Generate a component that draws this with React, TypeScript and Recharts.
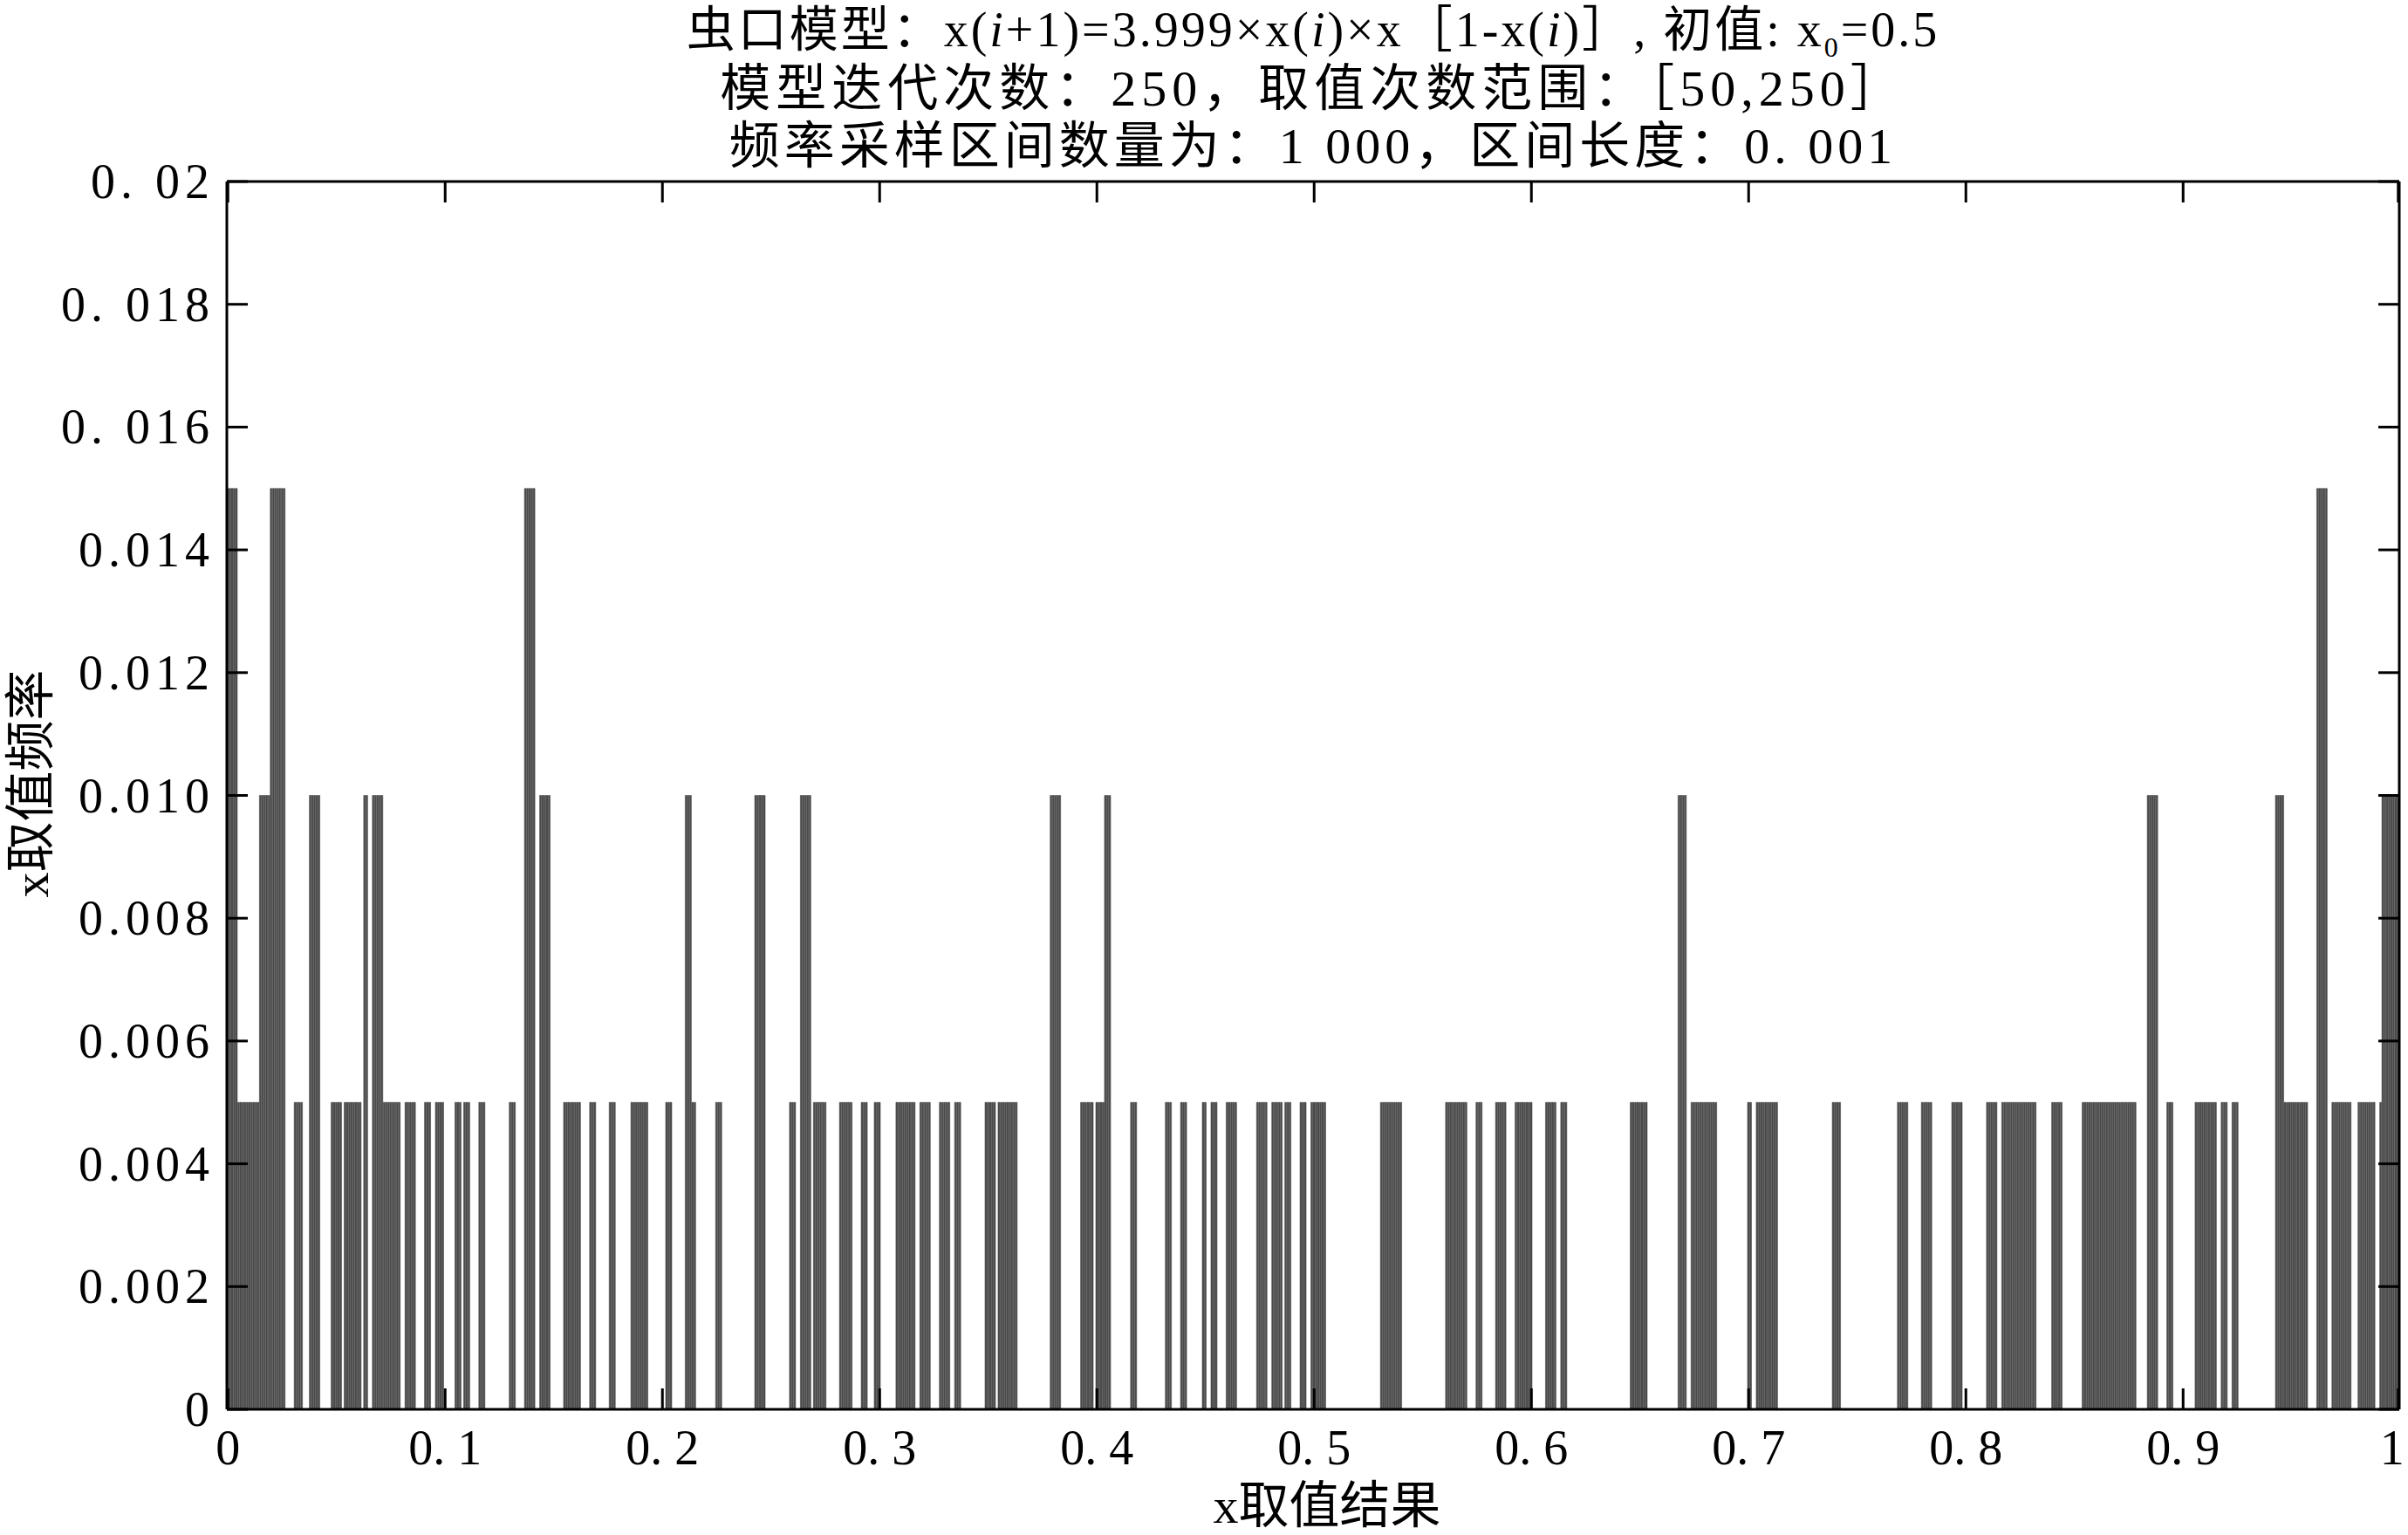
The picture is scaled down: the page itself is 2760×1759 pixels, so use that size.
import React from 'react';
import { BarChart, Bar, XAxis, YAxis } from 'recharts';

// histogram of logistic map values, 1000 bins of width 0.001
const BIN_COUNT = 1000;

// runs of consecutive bins [first, last] per frequency level
const runsAt005: [number, number][] = [
  [5, 14], [31, 34], [48, 52], [54, 61], [72, 79], [82, 86], [91, 93], [96, 99],
  [105, 107], [109, 111], [116, 118], [130, 132], [155, 162], [167, 169], [176, 178],
  [186, 193], [202, 204], [214, 215], [225, 227], [259, 261], [270, 275], [282, 287],
  [292, 294], [298, 300], [308, 316], [319, 323], [328, 332], [335, 337], [349, 353],
  [355, 363], [393, 398], [400, 403], [416, 418], [432, 434], [439, 441], [449, 450],
  [453, 455], [460, 464], [474, 478], [481, 485], [487, 489], [494, 496], [499, 505],
  [531, 540], [561, 570], [575, 577], [584, 588], [593, 600], [607, 611], [614, 616],
  [646, 653], [674, 685], [700, 701], [704, 713], [739, 742], [769, 773], [780, 784],
  [794, 798], [810, 814], [817, 832], [840, 844], [854, 878], [893, 895], [906, 915],
  [918, 920], [923, 925], [947, 957], [969, 977], [981, 988], [991, 991],
];
const runsAt010: [number, number][] = [
  [15, 19], [38, 42], [63, 64], [67, 71], [144, 148], [211, 213], [243, 247],
  [264, 268], [379, 383], [404, 406], [668, 671], [884, 888], [943, 946], [992, 999],
];
const runsAt015: [number, number][] = [[0, 4], [20, 26], [137, 141], [962, 966]];

const levels = [
  { freq: 0.005, runs: runsAt005 },
  { freq: 0.01, runs: runsAt010 },
  { freq: 0.015, runs: runsAt015 },
];

const yTicks = [0, 0.002, 0.004, 0.006, 0.008, 0.01, 0.012, 0.014, 0.016, 0.018, 0.02];
const yTickLabels = ['0', '0.002', '0.004', '0.006', '0.008', '0.010', '0.012', '0.014', '0. 016', '0. 018', '0. 02'];
const xTickBins = [0, 100, 200, 300, 400, 500, 600, 700, 800, 900, 999];
const xTickLabels = ['0', '0. 1', '0. 2', '0. 3', '0. 4', '0. 5', '0. 6', '0. 7', '0. 8', '0. 9', '1'];

const data = Array.from({ length: BIN_COUNT }, (_, i) => ({ bin: i, freq: 0 }));
levels.forEach(({ freq, runs }) => {
  runs.forEach(([a, b]) => {
    for (let i = a; i <= b; i++) data[i].freq = freq;
  });
});

const FONT = "'Liberation Serif', 'Noto Sans CJK SC', serif";
const BAR = '#4b4b4b';
const TICK_LEN = 24;
const FS = 56;

function LeftTick({ x, y, payload }: any) {
  const label = yTickLabels[yTicks.indexOf(payload.value)];
  return (
    <g>
      <line x1={x} y1={y} x2={x + TICK_LEN} y2={y} stroke="#000" strokeWidth={3} />
      <text x={x - 14} y={y + 19} textAnchor="end" fontSize={FS} fontFamily={FONT} letterSpacing={6} fill="#000">
        {label}
      </text>
    </g>
  );
}

function RightTick({ x, y }: any) {
  return <line x1={x} y1={y} x2={x - TICK_LEN} y2={y} stroke="#000" strokeWidth={3} />;
}

function BottomTick({ x, y, payload }: any) {
  const idx = xTickBins.indexOf(payload.value);
  const last = idx === xTickBins.length - 1;
  return (
    <g>
      <line x1={x} y1={y} x2={x} y2={y - TICK_LEN} stroke="#000" strokeWidth={3} />
      <text
        x={last ? x + 7 : x}
        y={y + 63}
        textAnchor={last ? 'end' : 'middle'}
        fontSize={FS}
        fontFamily={FONT}
        fill="#000"
      >
        {xTickLabels[idx]}
      </text>
    </g>
  );
}

function TopTick({ x, y }: any) {
  return <line x1={x} y1={y} x2={x} y2={y + TICK_LEN} stroke="#000" strokeWidth={3} />;
}

const titleLine = (top: number, spacing: number, size = 58): React.CSSProperties => ({
  position: 'absolute',
  left: 1505,
  top,
  transform: 'translate(-50%, -50%)',
  whiteSpace: 'nowrap',
  fontFamily: FONT,
  fontSize: size,
  lineHeight: 1,
  color: '#000',
  letterSpacing: spacing,
});

export default function App() {
  const axisLine = { stroke: '#000', strokeWidth: 3 };
  return (
    <div style={{ position: 'absolute', left: 0, top: 0, width: 2760, height: 1759, background: '#fff', overflow: 'hidden' }}>
      <BarChart
        width={2760}
        height={1759}
        data={data}
        margin={{ top: 207, right: 9, bottom: 44, left: 60 }}
        barCategoryGap={0}
        barGap={0}
      >
        <XAxis
          xAxisId="bottom"
          dataKey="bin"
          height={100}
          ticks={xTickBins}
          interval={0}
          tickSize={0}
          tickMargin={0}
          tickLine={false}
          axisLine={axisLine}
          tick={<BottomTick />}
        />
        <XAxis
          xAxisId="top"
          orientation="top"
          dataKey="bin"
          height={1}
          ticks={xTickBins}
          interval={0}
          tickSize={0}
          tickMargin={0}
          tickLine={false}
          axisLine={axisLine}
          tick={<TopTick />}
        />
        <YAxis
          yAxisId="left"
          type="number"
          domain={[0, 0.02]}
          ticks={yTicks}
          interval={0}
          width={200}
          tickSize={0}
          tickMargin={0}
          tickLine={false}
          axisLine={axisLine}
          tick={<LeftTick />}
        />
        <YAxis
          yAxisId="right"
          orientation="right"
          type="number"
          domain={[0, 0.02]}
          ticks={yTicks}
          interval={0}
          width={1}
          tickSize={0}
          tickMargin={0}
          tickLine={false}
          axisLine={axisLine}
          tick={<RightTick />}
        />
        <Bar
          xAxisId="bottom"
          yAxisId="left"
          dataKey="freq"
          fill={BAR}
          stroke={BAR}
          strokeWidth={0.6}
          isAnimationActive={false}
        />
        <Bar
          xAxisId="top"
          yAxisId="right"
          dataKey="freq"
          fill="none"
          stroke="none"
          isAnimationActive={false}
        />
      </BarChart>

      <div style={titleLine(38, 3, 56)}>
        虫口模型：x(<i>i</i>+1)=3.999×x(<i>i</i>)×x［1-x(<i>i</i>)］, 初值: x<sub style={{ fontSize: 32 }}>0</sub>=0.5
      </div>
      <div style={titleLine(102, 6)}>模型迭代次数：250，取值次数范围：［50,250］</div>
      <div style={titleLine(168, 5)}>频率采样区间数量为：1 000，区间长度：0. 001</div>

      <div
        style={{
          position: 'absolute',
          left: 36,
          top: 898,
          transform: 'translate(-50%, -50%) rotate(-90deg)',
          whiteSpace: 'nowrap',
          fontFamily: FONT,
          fontSize: 58,
          lineHeight: 1,
        }}
      >
        x取值频率
      </div>
      <div
        style={{
          position: 'absolute',
          left: 1521,
          top: 1726,
          transform: 'translate(-50%, -50%)',
          whiteSpace: 'nowrap',
          fontFamily: FONT,
          fontSize: 58,
          lineHeight: 1,
        }}
      >
        x取值结果
      </div>
    </div>
  );
}
